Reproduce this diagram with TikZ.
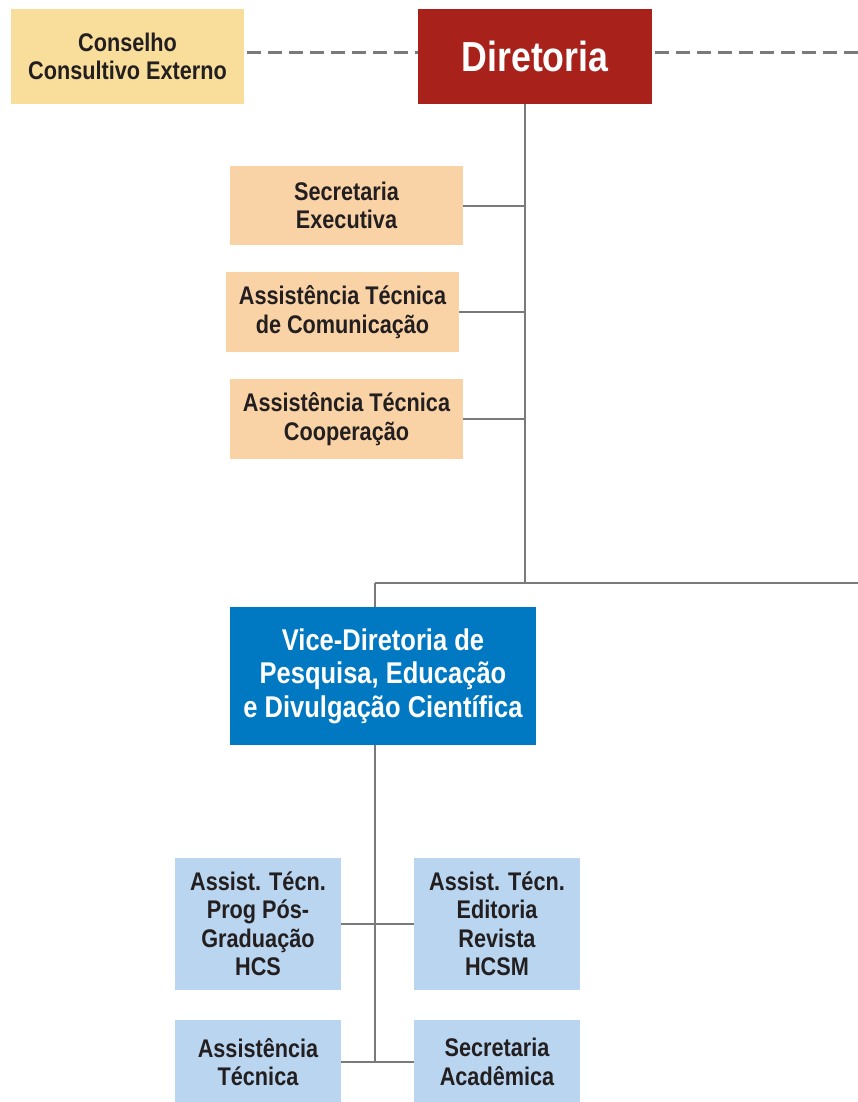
\documentclass[tikz,border=0pt]{standalone}
\usepackage{fontspec}
\setmainfont[FakeStretch=0.85]{Liberation Sans}
\usetikzlibrary{positioning}

\definecolor{conselho}{HTML}{F9DE9B}
\definecolor{diretoria}{HTML}{A8221B}
\definecolor{pessego}{HTML}{F9D3A6}
\definecolor{vice}{HTML}{0079C2}
\definecolor{azulclaro}{HTML}{B9D5EF}
\definecolor{linha}{HTML}{7A7A7A}
\definecolor{texto}{HTML}{231F20}

\tikzset{
  caixa/.style={inner sep=0pt, align=center, font=\bfseries\fontsize{25.5}{28.5}\selectfont, text=texto},
  liga/.style={draw=linha, line width=2pt},
  tracejado/.style={draw=linha, line width=3.5pt, dash pattern=on 14pt off 7pt, shorten <=3pt},
}

\begin{document}
\begin{tikzpicture}[x=1pt,y=-1pt]
    \useasboundingbox (0,0) rectangle (858,1102);
    % topo
    \node[caixa, fill=conselho, minimum width=233, minimum height=95] (cons) at (127.5,56.5) {Conselho\\Consultivo Externo};
    \node[caixa, fill=diretoria, text=white, minimum width=234, minimum height=95, font=\bfseries\fontsize{42}{44}\selectfont] (dir) at (535,56.5) {Diretoria};
    \coordinate (dl) at (244,52.5);
    \coordinate (dr) at (858,52.5);
    \draw[tracejado] (dl) -- (dl -| dir.west);
    \draw[tracejado] (dr -| dir.east) -- (dr);
    % assessorias da diretoria
    \node[caixa, fill=pessego, minimum width=233, minimum height=79] (sec) at (346.5,205.5) {Secretaria\\Executiva};
    \node[caixa, fill=pessego, minimum width=233, minimum height=80] (com) at (342.5,312) {Assistência Técnica\\de Comunicação};
    \node[caixa, fill=pessego, minimum width=233, minimum height=80] (coop) at (346.5,419) {Assistência Técnica\\Cooperação};
    \coordinate (j1) at (525,583);
    \coordinate (j2) at (375,583);
    \coordinate (jr) at (858,583);
    \draw[liga] (dir.south -| j1) -- (j1);
    \foreach \n in {sec,com,coop}
        \draw[liga] (\n.east) -- (\n.east -| j1);
    \draw[liga] (j2) -- (jr);
    % vice-diretoria
    \node[caixa, fill=vice, text=white, minimum width=306, minimum height=138, font=\bfseries\fontsize{30}{33.5}\selectfont] (vice) at (383,676) {Vice-Diretoria de\\Pesquisa, Educação\\e Divulgação Científica};
    \draw[liga] (j2) -- (j2 |- vice.north);
    % setores
    \node[caixa, fill=azulclaro, minimum width=166, minimum height=132] (pos) at (258,924) {Assist. Técn.\\Prog Pós-\\Graduação\\HCS};
    \node[caixa, fill=azulclaro, minimum width=166, minimum height=132] (edit) at (497,924) {Assist. Técn.\\Editoria\\Revista\\HCSM};
    \node[caixa, fill=azulclaro, minimum width=166, minimum height=84] (asst) at (258,1062) {Assistência\\Técnica};
    \node[caixa, fill=azulclaro, minimum width=166, minimum height=84] (acad) at (497,1062) {Secretaria\\Acadêmica};
    \coordinate (j3) at (375,1062);
    \draw[liga] (vice.south -| j3) -- (j3);
    \draw[liga] (pos.east) -- (edit.west);
    \draw[liga] (asst.east) -- (acad.west);
\end{tikzpicture}
\end{document}
